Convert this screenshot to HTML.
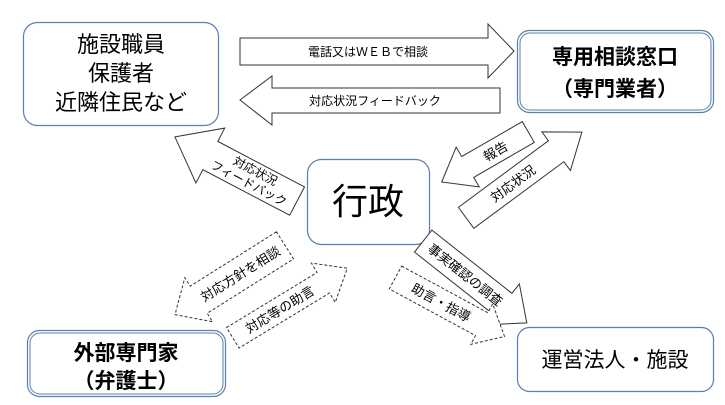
<!DOCTYPE html>
<html><head><meta charset="utf-8"><style>
html,body{margin:0;padding:0;background:#fff;}
svg{display:block;}
text{font-family:"Liberation Sans","Noto Sans CJK JP",sans-serif;fill:#000;}
</style></head><body>
<svg width="725" height="405" viewBox="0 0 725 405" xmlns="http://www.w3.org/2000/svg">
<!-- boxes -->
<rect x="23.5" y="22.5" width="195" height="103" rx="14" fill="#fff" stroke="#5a7fb0" stroke-width="1.2"/>
<text x="121" y="52" font-size="22" text-anchor="middle">施設職員</text>
<text x="121" y="81" font-size="22" text-anchor="middle">保護者</text>
<text x="121" y="110" font-size="22" text-anchor="middle">近隣住民など</text>

<rect x="517.5" y="30.5" width="196" height="82" rx="12" fill="#fff" stroke="#5a7fb0" stroke-width="1.2"/>
<rect x="520" y="33" width="191" height="77" rx="10" fill="none" stroke="#5a7fb0" stroke-width="1"/>
<text x="615" y="64" font-size="21" font-weight="bold" text-anchor="middle">専用相談窓口</text>
<text x="615" y="96" font-size="21" font-weight="bold" text-anchor="middle">（専門業者）</text>

<rect x="307.5" y="159.5" width="122" height="85" rx="14" fill="#fff" stroke="#5a7fb0" stroke-width="1.2"/>
<text x="368" y="214" font-size="36" text-anchor="middle">行政</text>

<rect x="27.5" y="330.5" width="198" height="66" rx="12" fill="#fff" stroke="#5a7fb0" stroke-width="1.2"/>
<rect x="30" y="333" width="193" height="61" rx="10" fill="none" stroke="#5a7fb0" stroke-width="1"/>
<text x="126" y="360" font-size="21" font-weight="bold" text-anchor="middle">外部専門家</text>
<text x="126" y="388" font-size="21" font-weight="bold" text-anchor="middle">（弁護士）</text>

<rect x="517.5" y="327.5" width="196" height="64" rx="12" fill="#fff" stroke="#5a7fb0" stroke-width="1.2"/>
<text x="615" y="367" font-size="21" text-anchor="middle">運営法人・施設</text>

<!-- horizontal arrows -->
<polygon points="240,38 488,38 488,24 514,51 488,78 488,65 240,65" fill="#fff" stroke="#333" stroke-width="1"/>
<text x="368" y="56" font-size="12" text-anchor="middle">電話又はＷＥＢで相談</text>
<polygon points="500,88 272,88 272,76 240,100 272,125 272,113 500,113" fill="#fff" stroke="#333" stroke-width="1"/>
<text x="375" y="105" font-size="12" text-anchor="middle">対応状況フィードバック</text>

<!-- Arrow1 UL feedback -->
<g transform="translate(236,169) rotate(27.7)">
<polygon transform="scale(-1,1)" points="-69,-16 29,-16 29,-31 69,0 29,31 29,16 -69,16" fill="#fff" stroke="#333"/>
<text x="18" y="-3" font-size="12" text-anchor="middle">対応状況</text>
<text x="18" y="11" font-size="12" text-anchor="middle">フィードバック</text>
</g>
<!-- Arrow2 報告 -->
<g transform="translate(485,157) rotate(-30)">
<polygon transform="scale(-1,1)" points="-50,-12 20,-12 20,-23 50,0 20,23 20,12 -50,12" fill="#fff" stroke="#333"/>
<text x="12" y="5" font-size="13" text-anchor="middle">報告</text>
</g>
<!-- Arrow3 対応状況 -->
<g transform="translate(524,175) rotate(-36.5)">
<polygon points="-72,-13 40,-13 40,-24 72,0 40,24 40,13 -72,13" fill="#fff" stroke="#333"/>
<text x="-14" y="5" font-size="13" text-anchor="middle">対応状況</text>
</g>
<!-- Arrow4 事実確認の調査 -->
<g transform="translate(475,282) rotate(38.3)">
<polygon points="-66,-14 36,-14 36,-26 66,0 36,26 36,14 -66,14" fill="#fff" stroke="#333"/>
<text x="-12" y="5" font-size="13" text-anchor="middle">事実確認の調査</text>
</g>
<!-- Arrow5 助言・指導 dashed -->
<g transform="translate(450,307) rotate(28.4)">
<polygon points="-62,-13 36,-13 36,-23 62,0 36,23 36,13 -62,13" fill="#fff" stroke="#333" stroke-dasharray="3,2"/>
<text x="-10" y="5" font-size="13" text-anchor="middle">助言・指導</text>
</g>
<!-- Arrow6 対応方針を相談 dashed -->
<g transform="translate(230,280) rotate(-32.2)">
<polygon transform="scale(-1,1)" points="-65,-16 37,-16 37,-26 65,0 37,26 37,16 -65,16" fill="#fff" stroke="#333" stroke-dasharray="3,2"/>
<text x="12" y="5" font-size="13" text-anchor="middle">対応方針を相談</text>
</g>
<!-- Arrow7 対応等の助言 dashed -->
<g transform="translate(290,303) rotate(-31.3)">
<polygon points="-67,-12 39,-12 39,-23 67,0 39,23 39,12 -67,12" fill="#fff" stroke="#333" stroke-dasharray="3,2"/>
<text x="-12" y="5" font-size="13" text-anchor="middle">対応等の助言</text>
</g>
</svg>
</body></html>
